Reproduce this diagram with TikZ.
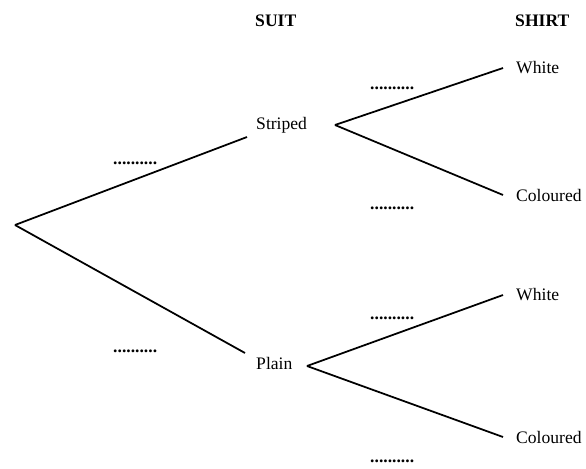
\documentclass[tikz,border=0pt]{standalone}
\usepackage{fontspec}
\setmainfont{Liberation Serif}
\usepackage{tikz}

\begin{document}
\begin{tikzpicture}[x=0.03cm,y=-0.03cm]
	\tikzstyle{every node}+=[inner sep=0pt]
	\tikzstyle{lbl}=[anchor=west,font=\fontsize{15}{18}\selectfont]
	\tikzstyle{head}=[lbl,font=\fontsize{15}{18}\selectfont\bfseries]
	\tikzstyle{blank}=[lbl,font=\fontsize{15}{18}\selectfont\bfseries]
	\tikzstyle{branch}=[black,line width=1.5pt]
	\useasboundingbox (0,0) rectangle (586,468);
	% headings
	\node [head] (suit) at (255,21) {SUIT};
	\node [head] (shirt) at (515,21) {SHIRT};
	% suit level
	\coordinate (root) at (15,225);
	\node [lbl] (striped) at (256,125) {Striped};
	\node [lbl] (plain) at (256,363) {Plain};
	\coordinate (stripedIn) at (247,137);
	\coordinate (plainIn) at (245,353);
	\draw [branch] (root) -- (stripedIn);
	\draw [branch] (root) -- (plainIn);
	\node [blank] (p1) at (113,163) {..........};
	\node [blank] (p2) at (113,351) {..........};
	% shirt level, striped
	\coordinate (stripedOut) at (335,125);
	\node [lbl] (sWhite) at (516,68) {White};
	\node [lbl] (sColoured) at (516,195) {Coloured};
	\coordinate (sWhiteIn) at (503,68);
	\coordinate (sColouredIn) at (503,195);
	\draw [branch] (stripedOut) -- (sWhiteIn);
	\draw [branch] (stripedOut) -- (sColouredIn);
	\node [blank] (p3) at (370,88) {..........};
	\node [blank] (p4) at (370,208) {..........};
	% shirt level, plain
	\coordinate (plainOut) at (307,366);
	\node [lbl] (pWhite) at (516,295) {White};
	\node [lbl] (pColoured) at (516,437) {Coloured};
	\coordinate (pWhiteIn) at (503,295);
	\coordinate (pColouredIn) at (503,437);
	\draw [branch] (plainOut) -- (pWhiteIn);
	\draw [branch] (plainOut) -- (pColouredIn);
	\node [blank] (p5) at (370,318) {..........};
	\node [blank] (p6) at (370,461) {..........};
\end{tikzpicture}
\end{document}
